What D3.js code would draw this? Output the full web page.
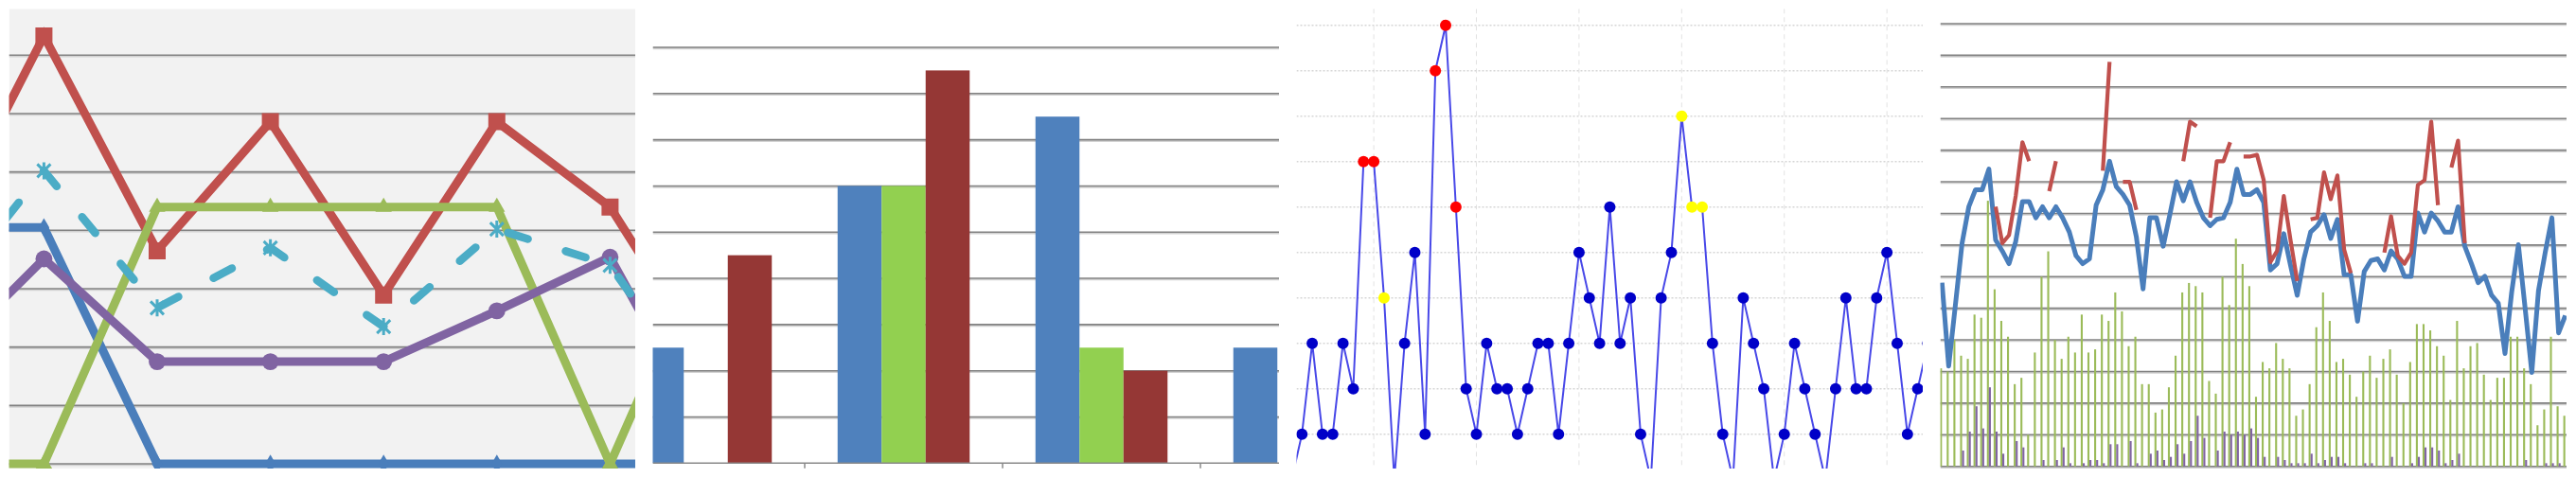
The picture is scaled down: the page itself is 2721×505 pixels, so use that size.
<!DOCTYPE html>
<html><head><meta charset="utf-8">
<script src="https://cdn.jsdelivr.net/npm/d3@7"></script>
<style>html,body{margin:0;padding:0;background:#fff;overflow:hidden}</style>
</head><body><svg id="c" width="2721" height="505"></svg>
<script>
// ===== Panel 1: multi-series line chart (cropped window) =====
const p1Points = [0, 1, 2, 3, 4, 5, 6, 7];
const p1Blue   = [4.05, 4.05, 0, 0, 0, 0, 0, 0];
const p1Red    = [3.53, 7.33, 3.65, 5.86, 2.89, 5.86, 4.40, 1.34];
const p1Green  = [0, 0, 4.40, 4.40, 4.40, 4.40, 0, 4.40];
const p1Purple = [1.58, 3.51, 1.75, 1.75, 1.75, 2.62, 3.54, 0];
const p1Cyan   = [2.57, 5.02, 2.67, 3.70, 2.35, 4.02, 3.40, 0.68];
const p1Ticks  = [0, 1, 2, 3, 4, 5, 6, 7];

// ===== Panel 2: clustered bars =====
const p2Cats   = ["A", "B", "C", "D"];
const p2Keys   = ["blue", "green", "red"];
const p2Blue   = [2.5, 6, 7.5, 2.5];
const p2Green  = [0, 6, 2.5, 0];
const p2Red    = [4.5, 8.5, 2.0, 0];
const p2Ticks  = [1, 2, 3, 4, 5, 6, 7, 8, 9];

// ===== Panel 3: line with highlighted points =====
const p3Values = [0, 1, 3, 1, 1, 3, 2, 7, 7, 4, 0, 3, 5, 1, 9, 10, 6, 2, 1, 3, 2,
                  2, 1, 2, 3, 3, 1, 3, 5, 4, 3, 6, 3, 4, 1, 0, 4, 5, 8, 6, 6,
                  3, 1, 0, 4, 3, 2, 0, 1, 3, 2, 1, 0, 2, 4, 2, 2, 4, 5, 3, 1, 2, 3];
const p3Red    = [7, 8, 14, 15, 16];
const p3Yellow = [9, 38, 39, 40];
const p3HTicks = [1, 2, 3, 4, 5, 6, 7, 8, 9, 10];
const p3VTicks = [8, 18, 28, 38, 48, 58];

// ===== Panel 4: lines over thin bars =====
const p4Blue = [5.81, 3.17, 5.1, 7.06, 8.21, 8.75, 8.75, 9.40, 7.16, 6.81, 6.41, 7.11, 8.37, 8.37, 7.86, 8.21,
  7.86, 8.21, 7.86, 7.41, 6.66, 6.41, 6.56, 8.26, 8.75, 9.65, 8.85, 8.60, 8.26, 7.26, 5.61, 7.86,
  7.86, 6.96, 7.96, 9.00, 8.40, 9.00, 8.35, 7.86, 7.61, 7.81, 7.86, 8.35, 9.40, 8.60, 8.60, 8.75,
  8.35, 6.21, 6.41, 7.36, 6.36, 5.41, 6.56, 7.41, 7.61, 7.96, 7.21, 7.81, 6.06, 6.06, 4.59, 6.16,
  6.51, 6.56, 6.21, 6.81, 6.56, 6.01, 6.01, 8.01, 7.41, 8.01, 7.76, 7.41, 7.41, 8.21, 6.96, 6.41,
  5.81, 6.01, 5.41, 5.16, 3.57, 5.51, 7.01, 5.01, 2.97, 5.56, 6.76, 7.86, 4.22, 4.77];
const p4Red = [null, null, null, null, null, null, null, null, 8.21, 7.06, 7.31, 8.55, 10.25, 9.65, null, null,
  8.70, 9.65, null, null, null, null, null, null, 9.35, 12.79, null, 9.00, 9.00, 8.11, null, null,
  null, null, null, null, 9.65, 10.90, 10.75, null, 7.86, 9.65, 9.65, 10.25, null, 9.80, 9.80, 9.85,
  9.05, 6.46, 6.81, 8.55, 7.16, 5.86, null, 7.81, 7.86, 9.30, 8.45, 9.20, 6.86, 6.11, null, null,
  null, null, 6.76, 7.91, 6.66, 6.41, 6.76, 8.90, 9.05, 10.90, 8.26, null, 9.45, 10.30, 7.06, null,
  null, null, null, null, null, null, null, null, null, null, null, null, null, null];
const p4Green = [3.1, 3.0, 4.0, 3.5, 3.4, 4.8, 4.7, 8.4, 5.6, 4.6, 4.1, 2.6, 2.8, 1.0, 3.6, 6.0,
  6.8, 4.0, 3.4, 4.1, 3.6, 4.8, 3.6, 3.7, 4.8, 4.6, 5.5, 4.9, 3.8, 4.1, 2.6, 2.6,
  1.7, 1.8, 2.5, 3.5, 5.5, 5.8, 5.7, 5.5, 2.7, 2.3, 6.0, 5.1, 7.2, 6.4, 5.7, 2.2,
  3.3, 3.1, 3.9, 3.4, 3.1, 1.6, 1.8, 2.6, 4.4, 5.5, 4.6, 3.3, 3.4, 2.9, 2.2, 3.0,
  3.5, 2.8, 3.4, 3.7, 2.9, 2.0, 3.3, 4.5, 4.5, 4.3, 3.8, 3.5, 2.1, 4.6, 3.1, 3.8,
  3.9, 2.9, 2.1, 2.8, 2.8, 4.1, 4.1, 3.1, 2.6, 1.3, 1.8, 4.1, 1.9, 1.6];
const p4Purple = [0, 0, 0, 0.5, 1.1, 1.9, 1.2, 2.5, 1.1, 0.4, 0, 0.8, 0.6, 0, 0, 0.2,
  0, 0.2, 0.6, 0.1, 0, 0.1, 0.2, 0.2, 0.1, 0.7, 0.7, 0, 0.8, 0.1, 0, 0.4,
  0.5, 0.2, 0.3, 0.7, 0.4, 0.8, 1.6, 0.9, 0, 0.5, 1.1, 1.0, 1.1, 1.0, 1.2, 0.9,
  0.3, 0, 0.3, 0.2, 0.1, 0.1, 0.1, 0.4, 0.1, 0.2, 0.3, 0.3, 0.1, 0, 0, 0.1,
  0.1, 0, 0, 0.3, 0, 0, 0.1, 0.3, 0.6, 0.6, 0.5, 0.1, 0.2, 0.4, 0, 0,
  0, 0, 0, 0, 0, 0, 0, 0.2, 0, 0, 0.1, 0.1, 0.1, 0];
const p4Ticks = [0, 1, 2, 3, 4, 5, 6, 7, 8, 9, 10, 11, 12, 13, 14];

// ================= drawing =================
const svg = d3.select("#c");
const defs = svg.append("defs");
const PW = 661.5, PT = 9.3, PB = 495;

function panel(i, bg) {
  const left = 9.5 + 680 * i;
  const id = "clip" + i;
  defs.append("clipPath").attr("id", id).append("rect")
    .attr("x", left).attr("y", PT).attr("width", PW).attr("height", PB - PT);
  const g = svg.append("g").attr("clip-path", `url(#${id})`);
  if (bg) g.append("rect").attr("x", left).attr("y", PT).attr("width", PW).attr("height", PB - PT).attr("fill", bg);
  return { g, left, right: left + PW };
}
function excelGrid(g, y, vals, x0, x1) {
  const gg = g.append("g");
  gg.selectAll(null).data(vals).join("line")
    .attr("x1", x0).attr("x2", x1).attr("y1", d => y(d) + 1.2).attr("y2", d => y(d) + 1.2)
    .attr("stroke", "#d2d2d2").attr("stroke-width", 2.2);
  gg.selectAll(null).data(vals).join("line")
    .attr("x1", x0).attr("x2", x1).attr("y1", d => y(d)).attr("y2", d => y(d))
    .attr("stroke", "#828282").attr("stroke-width", 1.6);
}

// ---------- Panel 1 ----------
{
  const P = panel(0, "#f2f2f2");
  const x = d3.scaleLinear().domain([0, 7]).range([-73.2, 764]);
  const y = d3.scaleLinear().domain([0, 7]).range([490, 58.3]);
  excelGrid(P.g, y, p1Ticks, P.left, P.right);
  const series = [
    { v: p1Blue, c: "#4a7ebb", m: "diamond" },
    { v: p1Red, c: "#c0504d", m: "square" },
    { v: p1Green, c: "#9bbb59", m: "triangle" },
    { v: p1Purple, c: "#8064a2", m: "circle" },
    { v: p1Cyan, c: "#4bacc6", m: "star", dash: "22,42" }
  ];
  const line = d3.line().x(d => x(d[0])).y(d => y(d[1]));
  series.forEach(s => {
    const pts = p1Points.map((p, i) => [p, s.v[i]]);
    P.g.append("path").attr("d", line(pts)).attr("fill", "none")
      .attr("stroke", s.c).attr("stroke-width", s.dash ? 8.5 : 9)
      .attr("stroke-linejoin", "miter").attr("stroke-linecap", s.dash ? "round" : "butt")
      .attr("stroke-dasharray", s.dash || null);
    const mg = P.g.append("g");
    const sel = mg.selectAll(null).data(pts).join("path")
      .attr("transform", d => `translate(${x(d[0])},${y(d[1])})`);
    if (s.m === "square") sel.attr("d", d3.symbol(d3.symbolSquare, 324)()).attr("fill", s.c);
    else if (s.m === "circle") sel.attr("d", d3.symbol(d3.symbolCircle, 250)()).attr("fill", s.c);
    else if (s.m === "triangle") sel.attr("d", d3.symbol(d3.symbolTriangle, 130)()).attr("fill", s.c);
    else if (s.m === "diamond") sel.attr("d", d3.symbol(d3.symbolDiamond, 110)()).attr("fill", s.c);
    else sel.attr("d", "M-7,-7L7,7M-7,7L7,-7M0,-9L0,9").attr("stroke", s.c).attr("stroke-width", 3).attr("fill", "none");
  });
}

// ---------- Panel 2 ----------
{
  const P = panel(1, null);
  const x0 = d3.scaleBand().domain(p2Cats).range([641, 1477]).paddingInner(0).paddingOuter(0);
  const step = x0.bandwidth();
  const x1 = d3.scaleBand().domain(p2Keys).range([(step - 139.5) / 2, step - (step - 139.5) / 2]);
  const y = d3.scaleLinear().domain([0, 9]).range([489.3, 50]);
  excelGrid(P.g, y, p2Ticks, P.left, P.right);
  const colors = { blue: "#4f81bd", green: "#92d050", red: "#953735" };
  const vals = { blue: p2Blue, green: p2Green, red: p2Red };
  p2Cats.forEach((c, ci) => {
    p2Keys.forEach(k => {
      const v = vals[k][ci];
      P.g.append("rect").attr("x", x0(c) + x1(k)).attr("width", x1.bandwidth())
        .attr("y", y(v)).attr("height", y(0) - y(v)).attr("fill", colors[k]);
    });
  });
  P.g.append("line").attr("x1", P.left).attr("x2", P.right).attr("y1", y(0)).attr("y2", y(0))
    .attr("stroke", "#8a8a8a").attr("stroke-width", 1.5);
  P.g.selectAll(null).data(p2Cats.slice(1)).join("line")
    .attr("x1", d => x0(d)).attr("x2", d => x0(d)).attr("y1", y(0)).attr("y2", y(0) + 5.5)
    .attr("stroke", "#8a8a8a").attr("stroke-width", 1.5);
}

// ---------- Panel 3 ----------
{
  const P = panel(2, null);
  const x = d3.scaleLinear().domain([0, 62]).range([1364.4, 2036.5]);
  const y = d3.scaleLinear().domain([0, 10]).range([506.7, 26.7]);
  P.g.selectAll(null).data(p3VTicks).join("line")
    .attr("x1", d => x(d)).attr("x2", d => x(d)).attr("y1", PT).attr("y2", PB)
    .attr("stroke", "#e2e2e2").attr("stroke-width", 1).attr("stroke-dasharray", "5,4");
  P.g.selectAll(null).data(p3HTicks).join("line")
    .attr("x1", P.left).attr("x2", P.right).attr("y1", d => y(d)).attr("y2", d => y(d))
    .attr("stroke", "#d6d6d6").attr("stroke-width", 1.5).attr("stroke-dasharray", "2,2");
  const idx = p3Values.map((v, i) => i);
  P.g.append("path").attr("d", d3.line().x(i => x(i)).y(i => y(p3Values[i]))(idx))
    .attr("fill", "none").attr("stroke", "#4848e8").attr("stroke-width", 2);
  P.g.selectAll(null).data(idx).join("circle")
    .attr("cx", i => x(i)).attr("cy", i => y(p3Values[i])).attr("r", 6)
    .attr("fill", i => p3Red.includes(i) ? "#ff0000" : (p3Yellow.includes(i) ? "#ffff00" : "#0000c8"));
}

// ---------- Panel 4 ----------
{
  const P = panel(3, null);
  const x = d3.scaleLinear().domain([0, 93]).range([2051.3, 2709.7]);
  const y = d3.scaleLinear().domain([0, 14]).range([492.7, 25]);
  excelGrid(P.g, y, p4Ticks, P.left, P.right);
  const idx = p4Blue.map((v, i) => i);
  P.g.selectAll(null).data(idx).join("rect")
    .attr("x", i => x(i) - 2.1).attr("width", 2.1)
    .attr("y", i => y(p4Green[i])).attr("height", i => y(0) - y(p4Green[i]))
    .attr("fill", "#9bbb59");
  P.g.selectAll(null).data(idx.filter(i => p4Purple[i] > 0)).join("rect")
    .attr("x", i => x(i)).attr("width", 2.1)
    .attr("y", i => y(p4Purple[i])).attr("height", i => y(0) - y(p4Purple[i]))
    .attr("fill", "#8064a2");
  P.g.append("path").attr("d", d3.line().x(i => x(i)).y(i => y(p4Blue[i]))(idx))
    .attr("fill", "none").attr("stroke", "#4a7ebb").attr("stroke-width", 5).attr("stroke-linejoin", "round");
  P.g.append("path")
    .attr("d", d3.line().defined(i => p4Red[i] !== null).x(i => x(i)).y(i => y(p4Red[i]))(idx))
    .attr("fill", "none").attr("stroke", "#c0504d").attr("stroke-width", 4.2).attr("stroke-linejoin", "round");
}
</script>
</body></html>
